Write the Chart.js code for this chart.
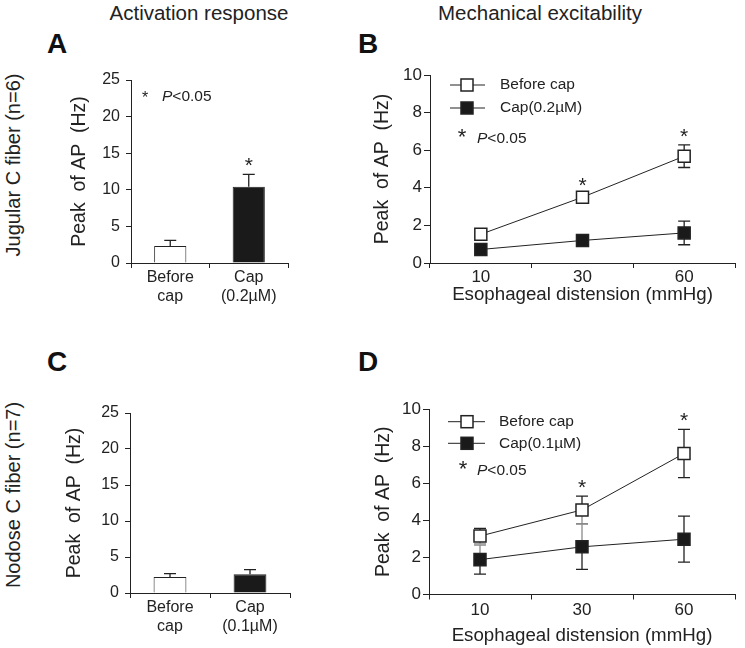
<!DOCTYPE html>
<html>
<head>
<meta charset="utf-8">
<script src="https://cdn.jsdelivr.net/npm/chart.js@4.4.0/dist/chart.umd.min.js"></script>
<style>
  body { margin: 0; background: #fff; width: 745px; height: 648px; position: relative; overflow: hidden;
         font-family: "Liberation Sans", Arial, Helvetica, sans-serif; color: #222; }
  canvas { position: absolute; }
  .lbl { position: absolute; white-space: nowrap; transform: translate(-50%, -50%); line-height: 1; }
  .head { font-size: 20.5px; }
  .letter { font-size: 28px; font-weight: bold; color: #111; }
  .row { font-size: 20px; transform: translate(-50%, -50%) rotate(-90deg); }
</style>
</head>
<body>
<div class="lbl head" style="left:199px; top:13px;">Activation response</div>
<div class="lbl head" style="left:540px; top:13px;">Mechanical excitability</div>
<div class="lbl letter" style="left:57px; top:44px;">A</div>
<div class="lbl letter" style="left:368px; top:44px;">B</div>
<div class="lbl letter" style="left:57px; top:362px;">C</div>
<div class="lbl letter" style="left:368px; top:362px;">D</div>
<div class="lbl row" style="left:13px; top:165px;">Jugular C fiber (n=6)</div>
<div class="lbl row" style="left:13px; top:495px;">Nodose C fiber (n=7)</div>

<canvas id="cA" width="255" height="258" style="left:50px; top:62px;"></canvas>
<canvas id="cB" width="375" height="258" style="left:370px; top:62px;"></canvas>
<canvas id="cC" width="255" height="253" style="left:50px; top:395px;"></canvas>
<canvas id="cD" width="375" height="258" style="left:370px; top:390px;"></canvas>

<script>
// activation response (bars, mean + upper SE)
const jugularCats = [["Before", "cap"], ["Cap", "(0.2µM)"]];
const jugularBar = [2.33, 10.4];
const jugularBarErr = [0.77, 1.7];
const nodoseCats = [["Before", "cap"], ["Cap", "(0.1µM)"]];
const nodoseBar = [2.23, 2.6];
const nodoseBarErr = [0.47, 0.66];

// mechanical excitability (lines, mean +/- SE)
const distension = ["10", "30", "60"];
const jugBefore = [1.53, 3.5, 5.68];
const jugBeforeErr = [0.1, 0.15, 0.6];
const jugCap = [0.72, 1.2, 1.6];
const jugCapErr = [0.08, 0.1, 0.63];
const nodBefore = [3.15, 4.56, 7.6];
const nodBeforeErr = [0.42, 0.74, 1.3];
const nodCap = [1.88, 2.57, 2.98];
const nodCapErr = [0.78, 1.22, 1.24];

// significance marks (category index)
const jugularBarSig = [1];
const jugularLineSig = [1, 2];
const nodoseBarSig = [];
const nodoseLineSig = [1, 2];

const FONT = '"Liberation Sans", Arial, Helvetica, sans-serif';
const INK = "#222";

function drawStar(ctx, x, cy, size) {
  ctx.save();
  ctx.font = size + "px " + FONT;
  ctx.fillStyle = INK;
  ctx.textAlign = "center";
  ctx.textBaseline = "alphabetic";
  ctx.fillText("*", x, cy + size * 0.6);
  ctx.restore();
}

function drawNote(ctx, x, cy, size) {
  ctx.save();
  ctx.fillStyle = INK;
  ctx.textBaseline = "middle";
  ctx.textAlign = "left";
  ctx.font = "italic " + size + "px " + FONT;
  ctx.fillText("P", x, cy);
  const w = ctx.measureText("P").width;
  ctx.font = size + "px " + FONT;
  ctx.fillText("<0.05", x + w, cy);
  ctx.restore();
}

function drawErrors(chart) {
  const ctx = chart.ctx, y = chart.scales.y;
  chart.data.datasets.forEach((ds, di) => {
    const meta = chart.getDatasetMeta(di);
    meta.data.forEach((el, i) => {
      const v = ds.data[i], e = ds.err[i];
      const mid = y.getPixelForValue(v);
      const top = y.getPixelForValue(v + e);
      const bot = y.getPixelForValue(v - e);
      const hw = ds.capHalf;
      ctx.save();
      ctx.lineWidth = 1.3;
      ctx.strokeStyle = ds.grayUp && ds.grayUp[i] ? "#8a8a8a" : INK;
      ctx.beginPath();
      ctx.moveTo(el.x, mid); ctx.lineTo(el.x, top);
      ctx.moveTo(el.x - hw, top); ctx.lineTo(el.x + hw, top);
      ctx.stroke();
      if (!ds.upOnly) {
        ctx.strokeStyle = ds.grayLow && ds.grayLow[i] ? "#8a8a8a" : INK;
        ctx.beginPath();
        ctx.moveTo(el.x, mid); ctx.lineTo(el.x, bot);
        ctx.moveTo(el.x - hw, bot); ctx.lineTo(el.x + hw, bot);
        ctx.stroke();
      }
      ctx.restore();
    });
  });
}

const errorBars = {
  id: "errorBars",
  beforeDatasetsDraw(chart) { if (chart.config.type === "line") drawErrors(chart); },
  afterDatasetsDraw(chart) { if (chart.config.type === "bar") drawErrors(chart); }
};

// legend, p-value note and significance stars
function makeAnnot(cfg) {
  return {
    id: "annot",
    afterDraw(chart) {
      const ctx = chart.ctx, a = chart.chartArea, y = chart.scales.y;
      if (cfg.legend) {
        const lg = cfg.legend;
        lg.items.forEach((it, k) => {
          const cy = a.top + lg.rows[k];
          ctx.save();
          ctx.strokeStyle = INK;
          ctx.lineWidth = 1;
          ctx.beginPath();
          ctx.moveTo(a.left + lg.x0, cy); ctx.lineTo(a.left + lg.x1, cy);
          ctx.stroke();
          ctx.fillStyle = it.fill;
          ctx.lineWidth = 1.5;
          ctx.fillRect(a.left + lg.sq - 6, cy - 6, 12, 12);
          ctx.strokeRect(a.left + lg.sq - 6, cy - 6, 12, 12);
          ctx.fillStyle = INK;
          ctx.font = "15.5px " + FONT;
          ctx.textBaseline = "middle";
          ctx.fillText(it.text, a.left + lg.tx, cy);
          ctx.restore();
        });
      }
      if (cfg.note) {
        const n = cfg.note;
        drawStar(ctx, a.left + n.sx, a.top + n.sy, n.ss);
        drawNote(ctx, a.left + n.px, a.top + n.py, 15.5);
      }
      const meta0 = chart.getDatasetMeta(0);
      cfg.sig.forEach(i => {
        let hi = -Infinity;
        chart.data.datasets.forEach(ds => { hi = Math.max(hi, ds.data[i] + ds.err[i]); });
        drawStar(ctx, meta0.data[i].x, y.getPixelForValue(hi) - 15, 21);
      });
    }
  };
}

function yAxis(max, step, width, titlePad, tickSize, tickLen, tickPad) {
  return {
    min: 0, max: max,
    ticks: { stepSize: step, color: INK, padding: tickPad, font: { family: FONT, size: tickSize } },
    grid: { drawOnChartArea: false, drawTicks: true, tickLength: tickLen, color: INK },
    border: { display: true, color: INK, width: 1 },
    title: { display: true, text: "Peak  of AP  (Hz)", color: INK,
             font: { family: FONT, size: 19.5, lineHeight: 1.2 }, padding: { top: titlePad, bottom: 0 } },
    afterFit: s => { s.width = width; }
  };
}

function xAxis(height, tickSize, lineHeight, tickPad, title, titlePadBottom) {
  return {
    offset: true,
    ticks: { color: INK, padding: tickPad, maxRotation: 0, autoSkip: false,
             font: { family: FONT, size: tickSize, lineHeight: lineHeight } },
    grid: { offset: true, drawOnChartArea: false, drawTicks: true, tickLength: 5, color: INK },
    border: { display: true, color: INK, width: 1 },
    title: title ? { display: true, text: title, color: INK,
                     font: { family: FONT, size: 18.7, lineHeight: 1.2 }, padding: { top: 0, bottom: titlePadBottom } }
                 : { display: false },
    afterFit: s => { s.height = height; }
  };
}

const common = {
  responsive: false,
  animation: false,
  devicePixelRatio: 1,
  events: [],
  plugins: { legend: { display: false }, tooltip: { enabled: false } }
};

function barChart(id, cats, vals, errs, sig, pad, yw, xh, titlePad, note) {
  new Chart(document.getElementById(id), {
    type: "bar",
    data: {
      labels: cats,
      datasets: [{
        data: vals, err: errs, upOnly: true, capHalf: 6,
        backgroundColor: ["#ffffff", "#1a1a1a"], borderColor: INK, borderWidth: 1,
        barPercentage: 0.41, categoryPercentage: 1
      }]
    },
    options: Object.assign({}, common, {
      layout: { padding: pad },
      scales: { x: xAxis(xh, 16, 1.15, 0.5, null, 0), y: yAxis(25, 5, yw, titlePad, 16, 5, 6) }
    }),
    plugins: [errorBars, makeAnnot({ sig: sig, note: note })]
  });
}

function lineSet(vals, errs, fill, extra) {
  return Object.assign({
    data: vals, err: errs, capHalf: 6,
    borderColor: INK, borderWidth: 1, tension: 0,
    pointStyle: "rect", pointRadius: 8.5, pointBackgroundColor: fill,
    pointBorderColor: INK, pointBorderWidth: 1.5
  }, extra || {});
}

function lineChart(id, before, beforeErr, cap, capErr, capLabel, sig, pad, yw, xh, titlePad, xTickPad, xTitlePad, lg, note, grayB, grayC) {
  new Chart(document.getElementById(id), {
    type: "line",
    data: {
      labels: distension,
      datasets: [
        lineSet(before, beforeErr, "#ffffff", { grayLow: grayB }),
        lineSet(cap, capErr, "#1a1a1a", { grayUp: grayC })
      ]
    },
    options: Object.assign({}, common, {
      layout: { padding: pad },
      scales: {
        x: xAxis(xh, 17, 1, xTickPad, "Esophageal distension (mmHg)", xTitlePad),
        y: yAxis(10, 2, yw, titlePad, 17, 6, 2)
      }
    }),
    plugins: [errorBars, makeAnnot({
      sig: sig, note: note,
      legend: Object.assign({ items: [{ text: "Before cap", fill: "#ffffff" }, { text: capLabel, fill: "#1a1a1a" }] }, lg)
    })]
  });
}

barChart("cA", jugularCats, jugularBar, jugularBarErr, jugularBarSig,
  { top: 18, right: 17, left: 0, bottom: 0 }, 81, 57, 18,
  { sx: 14, sy: 13, ss: 16, px: 31, py: 17 });

barChart("cC", nodoseCats, nodoseBar, nodoseBarErr, nodoseBarSig,
  { top: 18, right: 15, left: 0, bottom: 0 }, 80, 55, 13, null);

lineChart("cB", jugBefore, jugBeforeErr, jugCap, jugCapErr, "Cap(0.2µM)", jugularLineSig,
  { top: 13, right: 1, left: 0, bottom: 0 }, 60, 57, 0.5, 0.5, 13.8,
  { x0: 20, x1: 55, sq: 37, tx: 70, rows: [10, 33] },
  { sx: 32, sy: 56, ss: 22, px: 47, py: 64 }, null, null);

lineChart("cD", nodBefore, nodBeforeErr, nodCap, nodCapErr, "Cap(0.1µM)", nodoseLineSig,
  { top: 19, right: 1, left: 0, bottom: 0 }, 59, 53.5, 1.5, 2, 0.8,
  { x0: 19, x1: 56, sq: 38, tx: 70, rows: [12.7, 34.3] },
  { sx: 34, sy: 53.7, ss: 22, px: 48, py: 61.7 },
  [true, true, false], [true, true, false]);
</script>
</body>
</html>
